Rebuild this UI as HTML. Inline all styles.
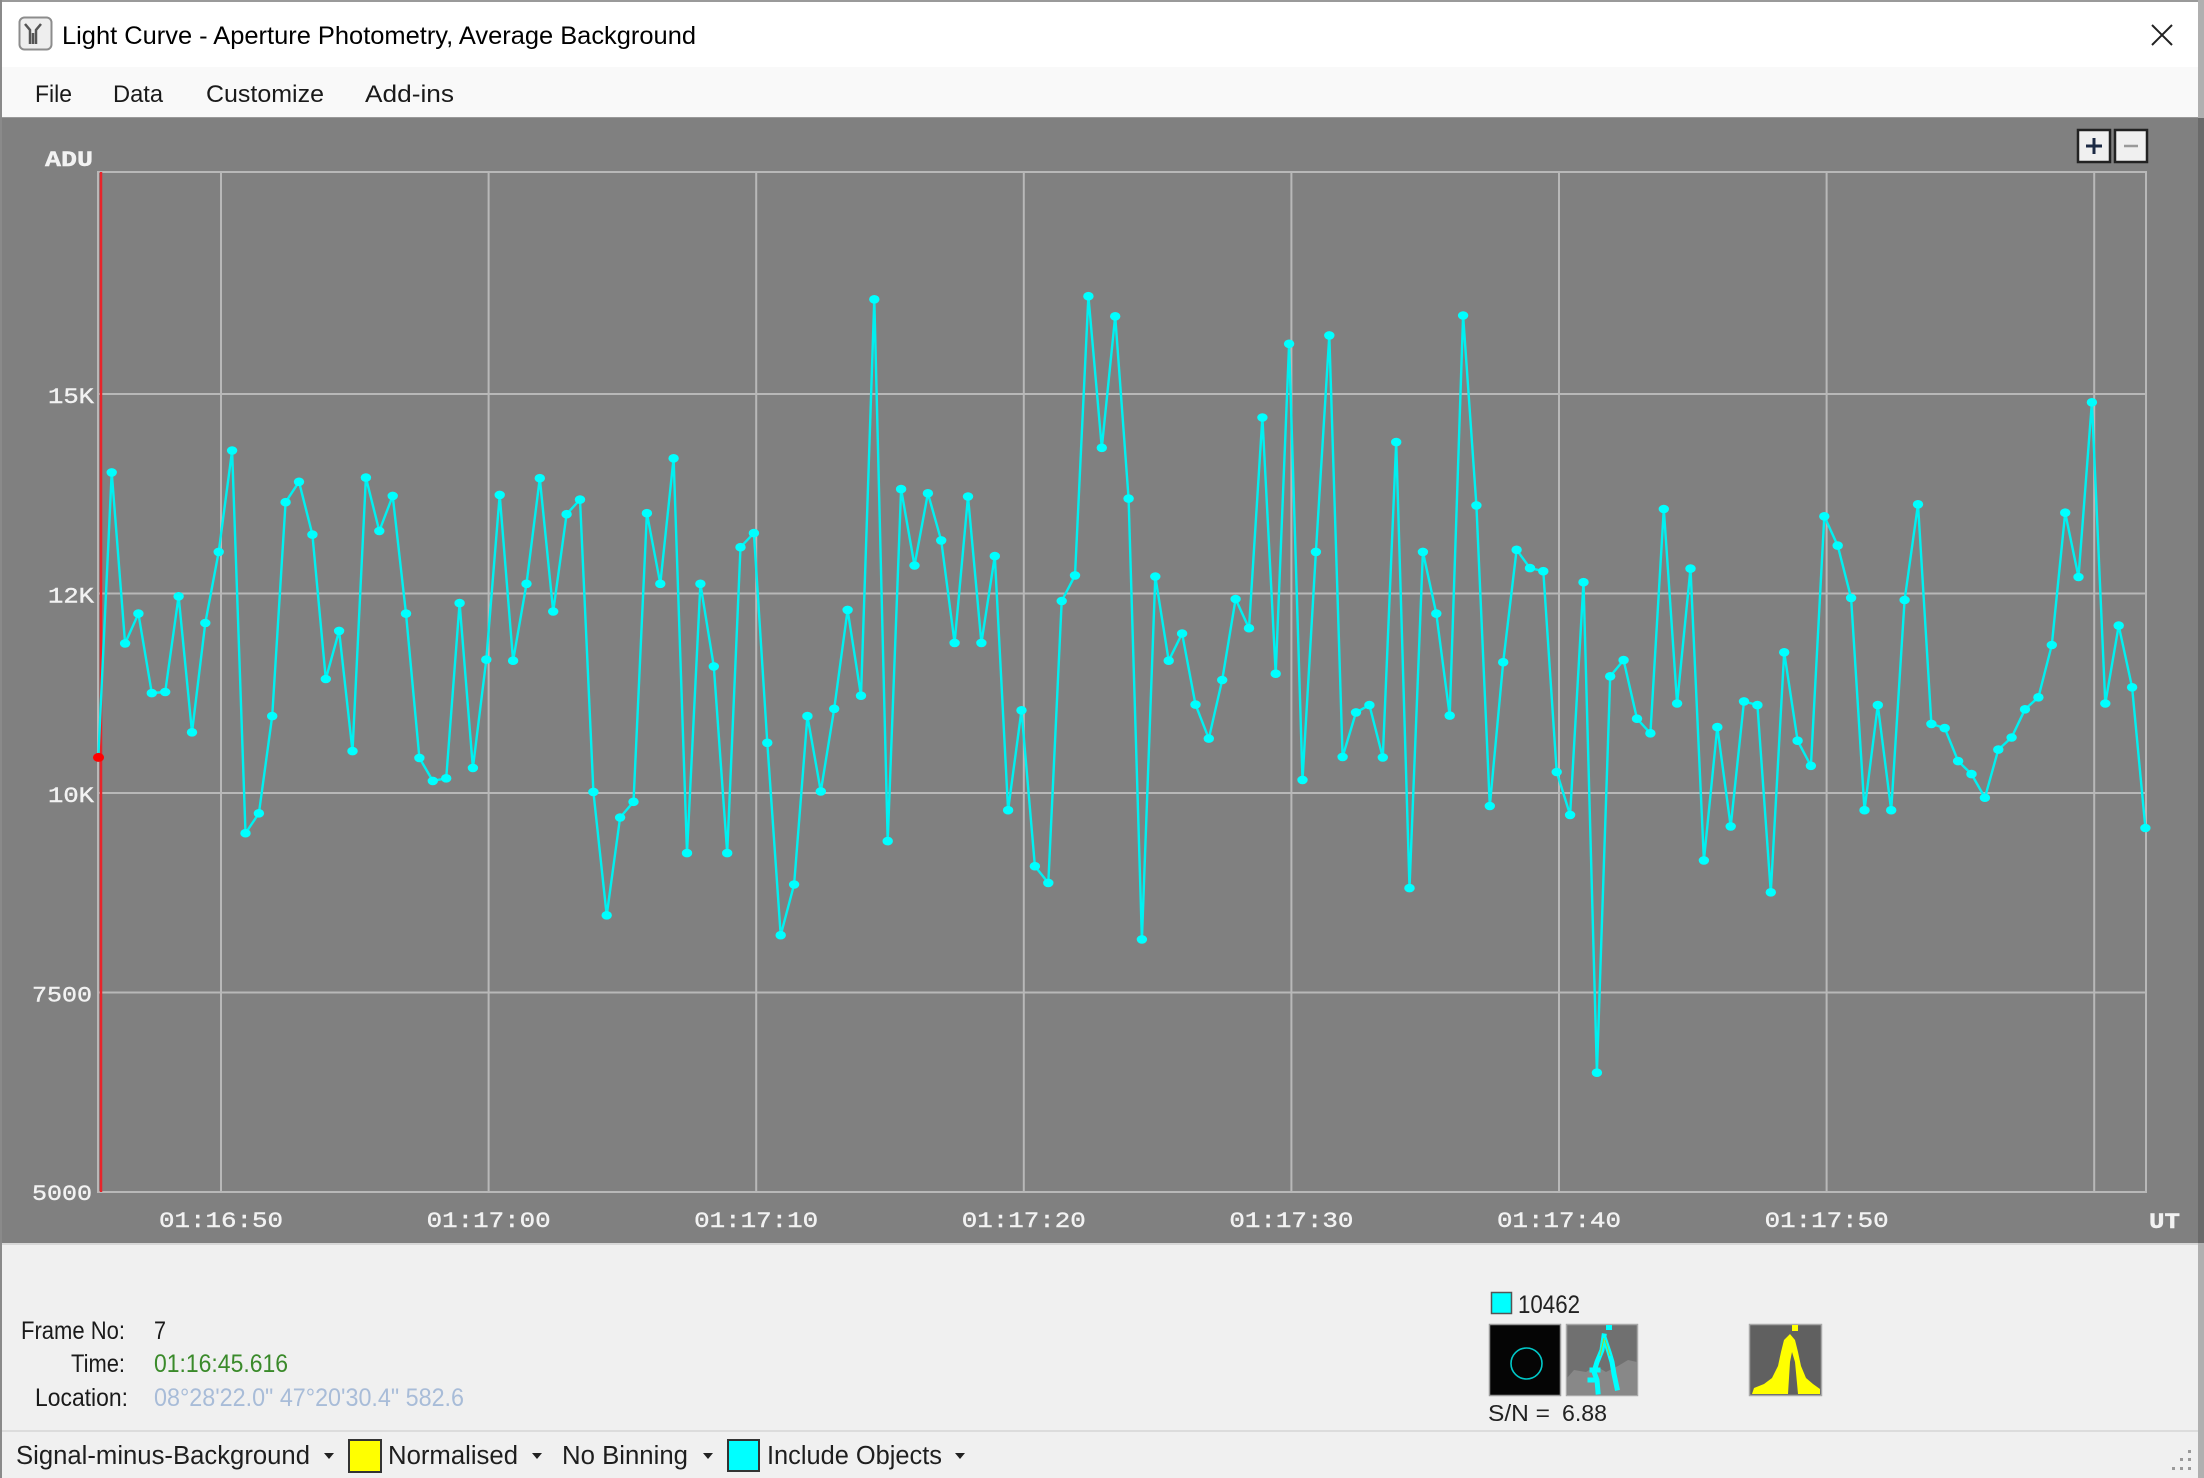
<!DOCTYPE html>
<html><head><meta charset="utf-8"><title>Light Curve</title>
<style>
html,body{margin:0;padding:0;background:#f0f0f0;}
svg{display:block;}
.ui{font-family:"Liberation Sans",Arial,sans-serif;}
.mono{font-family:"Liberation Mono","DejaVu Sans Mono",monospace;}
</style></head>
<body>
<svg width="2204" height="1478" viewBox="0 0 2204 1478" xmlns="http://www.w3.org/2000/svg">
<defs>
<marker id="m" markerUnits="userSpaceOnUse" markerWidth="14" markerHeight="14" refX="7" refY="7" overflow="visible">
<ellipse cx="7" cy="7" rx="5.2" ry="4.3" fill="#00ffff"/>
</marker>
</defs>
<!-- backgrounds -->
<rect x="0" y="0" width="2204" height="1478" fill="#f0f0f0"/>
<rect x="0" y="0" width="2198" height="67" fill="#ffffff"/>
<rect x="0" y="0" width="2204" height="2" fill="#9a9a9a"/>
<rect x="0" y="67" width="2198" height="51" fill="#f9f9f9"/>
<rect x="0" y="118" width="2198" height="1125" fill="#808080"/>
<rect x="0" y="117" width="2198" height="1" fill="#9a9a9a"/>
<rect x="0" y="1243" width="2198" height="2" fill="#d8d8d8"/>
<rect x="0" y="1430" width="2198" height="2" fill="#dcdcdc"/>
<rect x="0" y="0" width="2" height="1478" fill="#8a8a8a"/>
<rect x="2198" y="0" width="6" height="1478" fill="#b0b0b0"/>
<rect x="2198" y="118" width="6" height="1125" fill="#6a6a6a"/>

<!-- title bar -->
<rect x="19.5" y="17.5" width="32" height="32" rx="5" fill="#eeeeee" stroke="#8c8c8c" stroke-width="2"/>
<path d="M25 24 L30 30 L30 44 M41 24 L36 30 L36 44 M33 33 L33 44" stroke="#555" stroke-width="2.5" fill="none"/>
<text class="ui" x="62" y="44" font-size="25" fill="#000" textLength="634" lengthAdjust="spacingAndGlyphs">Light Curve - Aperture Photometry, Average Background</text>
<path d="M2152 25 L2172 45 M2152 45 L2172 25" stroke="#222" stroke-width="2"/>

<!-- menu -->
<g class="ui" font-size="24" fill="#1a1a1a">
<text x="35" y="102" textLength="37" lengthAdjust="spacingAndGlyphs">File</text>
<text x="113" y="102" textLength="50" lengthAdjust="spacingAndGlyphs">Data</text>
<text x="206" y="102" textLength="118" lengthAdjust="spacingAndGlyphs">Customize</text>
<text x="365" y="102" textLength="89" lengthAdjust="spacingAndGlyphs">Add-ins</text>
</g>

<!-- zoom buttons -->
<rect x="2078" y="130" width="32" height="32" fill="#f0f0f0" stroke="#222" stroke-width="2.5"/>
<path d="M2086 146 L2102 146 M2094 138 L2094 154" stroke="#1c2a44" stroke-width="3"/>
<rect x="2115" y="130" width="32" height="32" fill="#f0f0f0" stroke="#222" stroke-width="2.5"/>
<path d="M2124 146 L2138 146" stroke="#9a9a9a" stroke-width="2.5"/>

<!-- grid -->
<g stroke="#b8b8b8" stroke-width="2" fill="none">
<rect x="98" y="172" width="2048" height="1020"/>
<path d="M98 394 H2146 M98 593.5 H2146 M98 793 H2146 M98 992.5 H2146"/>
<path d="M221 172 V1192 M488.6 172 V1192 M756.2 172 V1192 M1023.8 172 V1192 M1291.4 172 V1192 M1559 172 V1192 M1826.6 172 V1192 M2094.2 172 V1192"/>
</g>

<!-- axis labels -->
<g class="mono" font-size="22" fill="#f2f2f2" stroke="#f2f2f2" stroke-width="0.4">
<text x="45" y="166" textLength="48" lengthAdjust="spacingAndGlyphs" font-weight="bold">ADU</text>
<text x="48" y="403" textLength="46" lengthAdjust="spacingAndGlyphs">15K</text>
<text x="48" y="602.5" textLength="46" lengthAdjust="spacingAndGlyphs">12K</text>
<text x="48" y="802" textLength="46" lengthAdjust="spacingAndGlyphs">10K</text>
<text x="32" y="1001.5" textLength="60" lengthAdjust="spacingAndGlyphs">7500</text>
<text x="32" y="1200" textLength="60" lengthAdjust="spacingAndGlyphs">5000</text>
<text x="159" y="1227" textLength="124" lengthAdjust="spacingAndGlyphs">01:16:50</text>
<text x="426.6" y="1227" textLength="124" lengthAdjust="spacingAndGlyphs">01:17:00</text>
<text x="694.2" y="1227" textLength="124" lengthAdjust="spacingAndGlyphs">01:17:10</text>
<text x="961.8" y="1227" textLength="124" lengthAdjust="spacingAndGlyphs">01:17:20</text>
<text x="1229.4" y="1227" textLength="124" lengthAdjust="spacingAndGlyphs">01:17:30</text>
<text x="1497" y="1227" textLength="124" lengthAdjust="spacingAndGlyphs">01:17:40</text>
<text x="1764.6" y="1227" textLength="124" lengthAdjust="spacingAndGlyphs">01:17:50</text>
<text x="2149" y="1228" textLength="31" lengthAdjust="spacingAndGlyphs" font-weight="bold">UT</text>
</g>

<!-- red cursor -->
<path d="M101 172 V1192" stroke="#e8242a" stroke-width="2.5"/>

<!-- series -->
<polyline fill="none" stroke="#00f0f0" stroke-width="2.4" stroke-linejoin="round" marker-start="url(#m)" marker-mid="url(#m)" marker-end="url(#m)" points="98.3,757.4 111.7,472.4 125.1,643.4 138.4,613.6 151.8,693.1 165.2,692.0 178.6,596.3 192.0,732.3 205.3,623.0 218.7,551.9 232.1,450.5 245.5,833.2 258.9,813.3 272.2,716.1 285.6,502.2 299.0,481.8 312.4,534.6 325.8,679.0 339.1,630.9 352.5,751.1 365.9,477.6 379.3,531.0 392.7,495.9 406.0,613.6 419.4,757.9 432.8,780.9 446.2,778.3 459.6,603.1 472.9,767.9 486.3,659.6 499.7,494.9 513.1,660.7 526.5,583.8 539.8,478.2 553.2,611.5 566.6,514.2 580.0,499.6 593.4,791.9 606.7,915.3 620.1,817.5 633.5,801.8 646.9,513.2 660.3,583.8 673.6,458.3 687.0,853.1 700.4,583.8 713.8,666.4 727.2,853.1 740.5,547.2 753.9,533.1 767.3,742.8 780.7,935.2 794.1,884.5 807.4,716.1 820.8,791.4 834.2,708.8 847.6,609.9 861.0,695.7 874.3,299.3 887.7,841.1 901.1,489.1 914.5,565.5 927.9,493.3 941.2,540.4 954.6,642.9 968.0,496.5 981.4,642.9 994.8,556.1 1008.1,810.2 1021.5,710.3 1034.9,866.2 1048.3,882.9 1061.7,601.0 1075.0,575.4 1088.4,296.2 1101.8,447.8 1115.2,316.3 1128.6,498.6 1141.9,939.4 1155.3,576.5 1168.7,660.7 1182.1,633.5 1195.5,704.6 1208.8,738.6 1222.2,680.0 1235.6,599.0 1249.0,628.2 1262.4,417.5 1275.7,673.7 1289.1,343.8 1302.5,779.9 1315.9,551.9 1329.3,335.4 1342.6,756.9 1356.0,712.4 1369.4,705.1 1382.8,757.4 1396.2,442.1 1409.5,888.1 1422.9,551.9 1436.3,613.6 1449.7,715.6 1463.1,315.5 1476.4,505.4 1489.8,806.0 1503.2,662.2 1516.6,549.8 1530.0,568.1 1543.3,571.2 1556.7,772.0 1570.1,814.9 1583.5,582.2 1596.9,1072.7 1610.2,676.3 1623.6,660.1 1637.0,718.7 1650.4,733.3 1663.8,509.0 1677.1,703.5 1690.5,568.6 1703.9,860.4 1717.3,727.1 1730.7,826.4 1744.0,701.4 1757.4,705.1 1770.8,892.3 1784.2,652.3 1797.6,740.7 1810.9,765.8 1824.3,516.3 1837.7,545.6 1851.1,597.9 1864.5,810.2 1877.8,705.1 1891.2,810.2 1904.6,600.0 1918.0,504.3 1931.4,723.9 1944.7,728.1 1958.1,761.1 1971.5,774.1 1984.9,797.7 1998.3,749.6 2011.6,737.5 2025.0,709.3 2038.4,697.3 2051.8,645.0 2065.2,512.7 2078.5,577.0 2091.9,402.3 2105.3,703.5 2118.7,625.6 2132.1,687.3 2145.4,828.0"/>
<ellipse cx="98.5" cy="757.4" rx="5.5" ry="4.5" fill="#ff0000"/>

<!-- info panel -->
<g class="ui" font-size="25">
<text x="21" y="1339" fill="#1a1a1a" textLength="104" lengthAdjust="spacingAndGlyphs">Frame No:</text>
<text x="71" y="1372" fill="#1a1a1a" textLength="54" lengthAdjust="spacingAndGlyphs">Time:</text>
<text x="35" y="1406" fill="#1a1a1a" textLength="93" lengthAdjust="spacingAndGlyphs">Location:</text>
<text x="154" y="1339" fill="#1a1a1a" textLength="12" lengthAdjust="spacingAndGlyphs">7</text>
<text x="154" y="1372" fill="#3a8a2a" textLength="134" lengthAdjust="spacingAndGlyphs">01:16:45.616</text>
<text x="154" y="1406" fill="#a8bcd8" textLength="310" lengthAdjust="spacingAndGlyphs">08°28'22.0" 47°20'30.4" 582.6</text>
</g>

<!-- thumbnails -->
<rect x="1491.5" y="1292.5" width="20" height="21" fill="#00ffff" stroke="#555" stroke-width="1.5"/>
<text class="ui" x="1518" y="1313" font-size="25" fill="#222" textLength="62" lengthAdjust="spacingAndGlyphs">10462</text>
<rect x="1489.5" y="1324.5" width="71" height="71" fill="#050505" stroke="#9a9a9a" stroke-width="1.5"/>
<circle cx="1526.5" cy="1363.5" r="15.5" fill="none" stroke="#00c8c8" stroke-width="1.6"/>
<rect x="1566.5" y="1324.5" width="71" height="71" fill="#707070" stroke="#a8a8a8" stroke-width="1.5"/>
<polygon points="1567,1395 1567,1378 1574,1370 1586,1372 1596,1366 1606,1372 1618,1366 1628,1360 1637,1362 1637,1395" fill="#888888"/>
<g stroke="#00ffff" stroke-width="5" fill="none" stroke-linejoin="round" stroke-linecap="square">
<path d="M1604 1336 L1602 1350 L1597 1362 L1594 1372 L1597 1380 L1598 1392"/>
<path d="M1605 1340 L1609 1352 L1612 1362 L1614 1374 L1617 1388"/>
<path d="M1592 1370 L1598 1370 M1590 1380 L1595 1380"/>
</g>
<rect x="1606" y="1325" width="6" height="5" fill="#00ffff"/>
<path d="M1604 1338 L1600 1356 M1605 1340 L1610 1356" stroke="#a8d020" stroke-width="1"/>
<rect x="1749.5" y="1324.5" width="72" height="71" fill="#606060" stroke="#a8a8a8" stroke-width="1.5"/>
<polygon points="1752,1394 1754,1388 1764,1384 1772,1378 1778,1366 1781,1352 1784,1340 1790,1334 1795,1340 1798,1352 1801,1366 1806,1378 1813,1384 1820,1389 1820,1394" fill="#ffff00"/>
<polygon points="1788,1394 1790,1362 1792,1352 1795,1362 1798,1394" fill="#606060"/>
<rect x="1792" y="1325" width="6" height="6" fill="#ffff00"/>
<text class="ui" x="1488" y="1421" font-size="23" fill="#222" textLength="62" lengthAdjust="spacingAndGlyphs">S/N =</text>
<text class="ui" x="1562" y="1421" font-size="23" fill="#222" textLength="45" lengthAdjust="spacingAndGlyphs">6.88</text>

<!-- status bar -->
<g class="ui" font-size="25.5" fill="#1e1e1e">
<text x="16" y="1464" textLength="294" lengthAdjust="spacingAndGlyphs">Signal-minus-Background</text>
<text x="388" y="1464" textLength="130" lengthAdjust="spacingAndGlyphs">Normalised</text>
<text x="562" y="1464" textLength="126" lengthAdjust="spacingAndGlyphs">No Binning</text>
<text x="767" y="1464" textLength="175" lengthAdjust="spacingAndGlyphs">Include Objects</text>
</g>
<g fill="#222">
<polygon points="324,1453 334,1453 329,1459"/>
<polygon points="532,1453 542,1453 537,1459"/>
<polygon points="703,1453 713,1453 708,1459"/>
<polygon points="955,1453 965,1453 960,1459"/>
</g>
<rect x="349" y="1440" width="32" height="32" fill="#ffff00" stroke="#333" stroke-width="2"/>
<rect x="728" y="1440" width="31" height="31" fill="#00ffff" stroke="#333" stroke-width="2"/>
<g fill="#9a9a9a">
<rect x="2188" y="1450" width="3" height="3"/>
<rect x="2180" y="1458" width="3" height="3"/><rect x="2188" y="1458" width="3" height="3"/>
<rect x="2172" y="1467" width="3" height="3"/><rect x="2180" y="1467" width="3" height="3"/><rect x="2188" y="1467" width="3" height="3"/>
</g>
</svg>
</body></html>
